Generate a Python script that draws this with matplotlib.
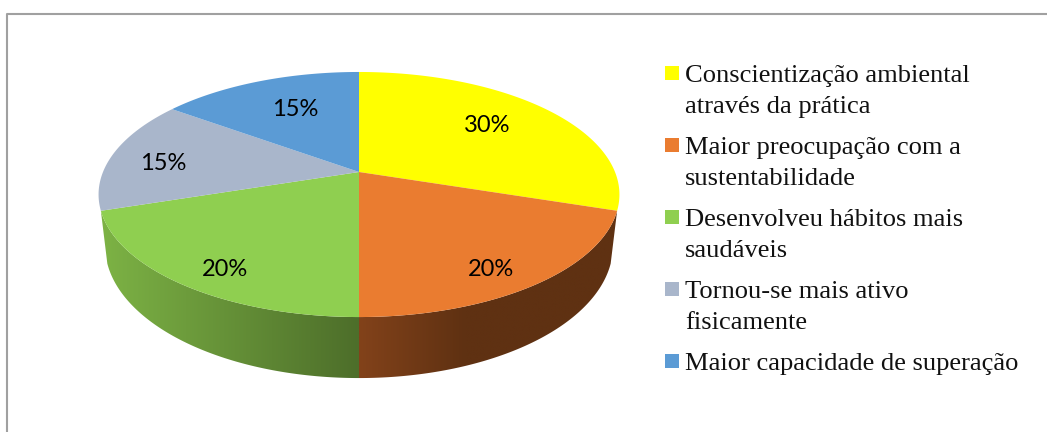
import numpy as np
import matplotlib
matplotlib.use('Agg')
import matplotlib.pyplot as plt
from matplotlib.colors import to_rgb
from matplotlib.patches import Polygon, Rectangle

labels = ['Conscientização ambiental\natravés da prática',
          'Maior preocupação com a\nsustentabilidade',
          'Desenvolveu hábitos mais\nsaudáveis',
          'Tornou-se mais ativo\nfisicamente',
          'Maior capacidade de superação']
values = [30, 20, 20, 15, 15]
colors = ['#ffff00', '#ea7c30', '#8fcf50', '#a9b6cb', '#5b9bd5']

# where Excel put the percent labels, in pixels
label_xy = [(487, 125), (491, 270), (225, 270), (163, 163), (295, 110)]

# perspective of the pie, fitted on the reference
XC, YC = 359, 172
RX, RY = 256, 118.4
PERSP = 0.1837
DEPTH = 49.8


def top(theta):
    # theta is clockwise from 12 o'clock
    u, v = np.sin(theta), -np.cos(theta)
    s = 1 / (1 - PERSP * v)
    return XC + RX * u * s, YC + RY * v * s


def bottom(theta):
    u, v = np.sin(theta), -np.cos(theta)
    s = 1 / (1 - PERSP * v)
    return XC + 0.975 * RX * u * s, YC + (RY * v + DEPTH) * s


def side(ax, t0, t1, x_stops, c_stops):
    # extruded edge of the pie, gradient clipped to the outline
    th = np.linspace(t0, t1, 200)
    xt, yt = top(th)
    xb, yb = bottom(th)
    pts = np.vstack([np.c_[xt, yt], np.c_[xb, yb][::-1]])
    poly = Polygon(pts, closed=True, fc='none', ec='none')
    ax.add_patch(poly)
    xs = np.linspace(x_stops[0], x_stops[-1], 256)
    rgb = np.array([to_rgb(c) for c in c_stops])
    grad = np.stack([np.interp(xs, x_stops, rgb[:, k]) for k in range(3)], axis=1)
    img = ax.imshow(grad[None, :, :], extent=(x_stops[0], x_stops[-1], 400, 150),
                    aspect='auto', interpolation='bilinear', zorder=2)
    img.set_clip_path(poly)


fig = plt.figure(figsize=(10.47, 4.32), dpi=100)
ax = fig.add_axes([0, 0, 1, 1])

edges = 2 * np.pi * np.cumsum([0] + values) / sum(values)

# front edge, only orange and green can be seen
side(ax, edges[1], edges[2], [359, 465, 640], ['#82421a', '#5f3112', '#5f3112'])
side(ax, edges[2], edges[3], [100, 359], ['#7db345', '#4d6e2a'])

for i, val in enumerate(values):
    th = np.linspace(edges[i], edges[i + 1], 200)
    x, y = top(th)
    ax.fill(np.r_[XC, x], np.r_[YC, y], color=colors[i], lw=0, zorder=3)
    ax.text(label_xy[i][0], label_xy[i][1], '%d%%' % val, family='Lato',
            fontsize=17, ha='center', va='center', color='black', zorder=5)

# legend, drawn by hand because the key sits on the first line
base = 82
for lab, col in zip(labels, colors):
    ax.add_patch(Rectangle((665, base - 16), 14, 14, fc=col, ec='none'))
    for line in lab.split('\n'):
        ax.text(685, base, line, family='Liberation Serif', fontsize=19.05,
                ha='left', va='baseline', color='#111111')
        base += 31
    base += 10

ax.plot([7, 7, 1047], [432, 14, 14], color='#a0a0a0', lw=1.5, zorder=6)

ax.set_xlim(0, 1047)
ax.set_ylim(432, 0)
ax.axis('off')

fig.savefig('out.png', dpi=100)
